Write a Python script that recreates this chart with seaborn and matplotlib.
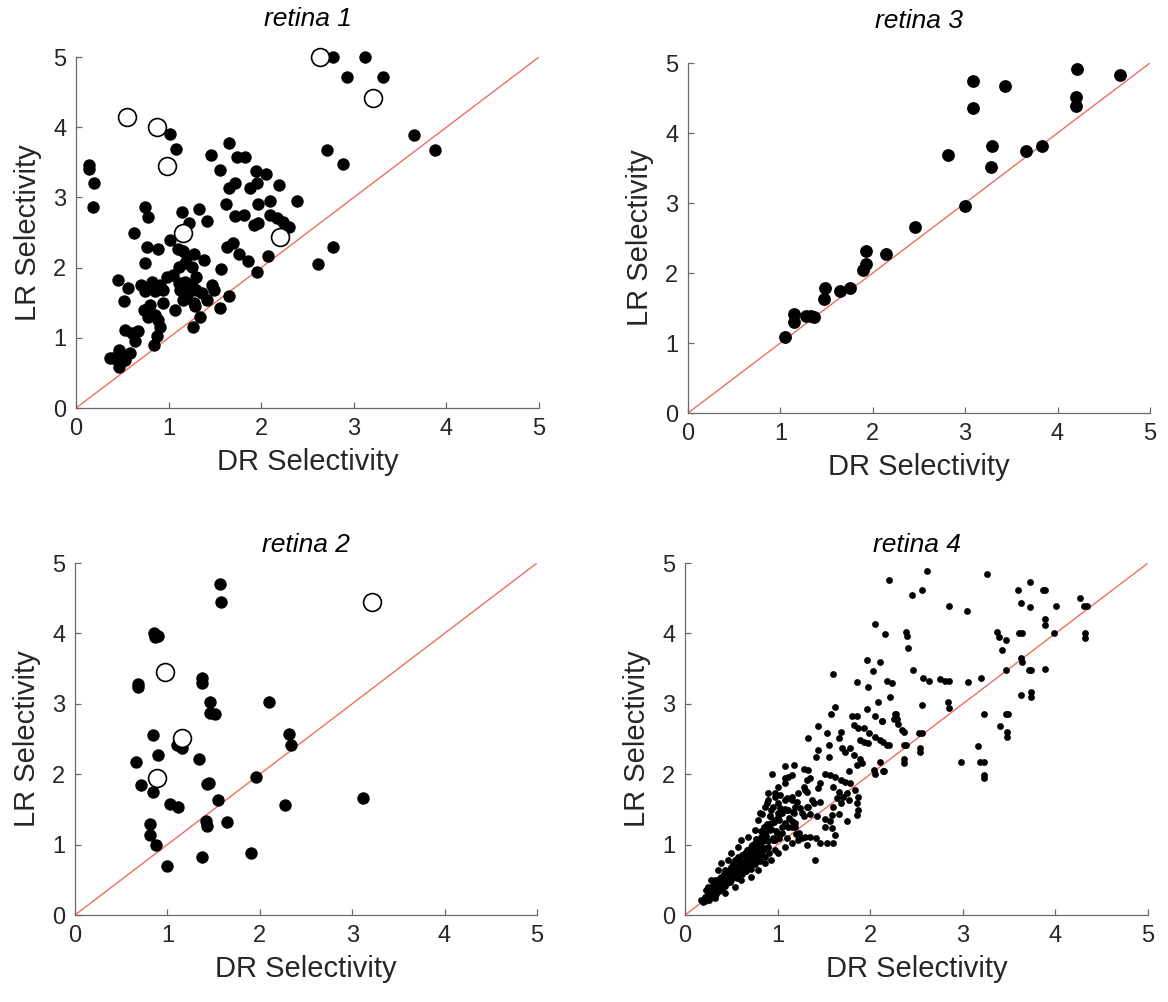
import matplotlib
matplotlib.use("Agg")
import matplotlib.pyplot as plt
import seaborn as sns
import pandas as pd

# ---------------- data ----------------
# retina 1
r1_open_x = [2.63, 3.21, 0.55, 0.87, 0.98, 1.15, 2.20]
r1_open_y = [5.00, 4.42, 4.15, 4.00, 3.45, 2.50, 2.44]
r1_x = [2.77, 3.12, 2.93, 3.32, 3.65, 3.88, 2.71, 2.88, 2.78, 2.61,
        0.14, 0.14, 0.19, 0.18, 1.02, 1.08, 1.46, 1.56, 1.65, 1.74,
        1.82, 1.94, 2.05, 2.19, 1.72, 1.65, 1.88, 1.95, 1.62, 1.96,
        2.10, 2.39, 1.72, 1.81, 1.97, 1.92, 2.09, 2.17, 2.24, 2.30,
        0.74, 0.78, 0.63, 0.77, 0.89, 1.02, 1.14, 1.22, 1.33, 1.41,
        1.63, 1.70, 1.76, 1.86, 2.07, 1.95, 1.57, 1.65, 1.55, 0.74,
        1.10, 1.16, 1.20, 1.27, 1.38, 1.11, 1.18, 1.25, 0.45, 0.56,
        0.70, 0.82, 0.91, 0.98, 1.05, 0.85, 0.94, 1.11, 1.18, 1.25,
        1.30, 1.12, 1.21, 1.30, 1.36, 1.47, 1.49, 1.41, 1.16, 1.27,
        1.29, 0.52, 0.74, 0.80, 0.73, 0.78, 0.85, 0.89, 0.94, 1.07,
        0.91, 0.87, 0.84, 0.53, 0.60, 0.67, 0.64, 1.26, 1.34, 0.40,
        0.48, 0.46, 0.47, 0.53, 0.58, 0.46, 0.37]
r1_y = [5.00, 5.00, 4.72, 4.72, 3.89, 3.67, 3.67, 3.47, 2.29, 2.05,
        3.46, 3.41, 3.20, 2.87, 3.91, 3.69, 3.60, 3.39, 3.77, 3.58,
        3.58, 3.38, 3.34, 3.17, 3.20, 3.13, 3.13, 3.20, 2.91, 2.91,
        2.95, 2.95, 2.73, 2.75, 2.64, 2.61, 2.75, 2.70, 2.65, 2.58,
        2.87, 2.72, 2.49, 2.30, 2.27, 2.40, 2.79, 2.64, 2.83, 2.67,
        2.30, 2.35, 2.19, 2.09, 2.17, 1.94, 1.98, 1.60, 1.42, 2.06,
        2.27, 2.23, 2.16, 2.20, 2.11, 2.01, 2.06, 2.01, 1.82, 1.71,
        1.75, 1.80, 1.75, 1.87, 1.90, 1.66, 1.68, 1.78, 1.80, 1.75,
        1.87, 1.68, 1.64, 1.68, 1.64, 1.75, 1.68, 1.54, 1.54, 1.49,
        1.45, 1.52, 1.66, 1.47, 1.40, 1.30, 1.33, 1.26, 1.50, 1.40,
        1.16, 1.02, 0.90, 1.11, 1.07, 1.09, 0.95, 1.16, 1.30, 0.71,
        0.73, 0.83, 0.64, 0.69, 0.78, 0.59, 0.71]

# retina 2
r2_open_x = [0.97, 1.16, 0.89, 3.21]
r2_open_y = [3.45, 2.52, 1.95, 4.44]
r2_x = [1.57, 1.58, 0.86, 0.90, 0.87, 0.68, 0.68, 1.38, 1.38, 1.46,
        1.46, 1.52, 2.10, 0.84, 2.32, 2.34, 1.10, 1.16, 0.90, 0.66,
        1.34, 0.71, 0.84, 1.96, 1.43, 1.45, 1.03, 1.12, 1.55, 2.27,
        3.12, 0.81, 0.81, 0.88, 1.42, 1.43, 1.65, 1.00, 1.38, 1.91]
r2_y = [4.70, 4.44, 4.01, 3.97, 3.95, 3.28, 3.24, 3.36, 3.30, 3.03,
        2.87, 2.85, 3.03, 2.56, 2.57, 2.42, 2.42, 2.37, 2.28, 2.17,
        2.21, 1.85, 1.75, 1.96, 1.86, 1.88, 1.57, 1.53, 1.63, 1.56,
        1.66, 1.30, 1.14, 1.00, 1.34, 1.27, 1.32, 0.70, 0.82, 0.88]

# retina 3
r3_x = [1.05, 1.15, 1.15, 1.28, 1.33, 1.36, 1.48, 1.47, 1.65, 1.75,
        1.93, 1.93, 1.90, 2.14, 2.46, 2.81, 3.00, 3.09, 3.08, 3.29,
        3.28, 3.43, 3.66, 3.83, 4.21, 4.20, 4.20, 4.68]
r3_y = [1.09, 1.42, 1.30, 1.39, 1.38, 1.37, 1.78, 1.63, 1.75, 1.79,
        2.32, 2.13, 2.05, 2.27, 2.66, 3.68, 2.96, 4.75, 4.36, 3.82,
        3.51, 4.67, 3.75, 3.81, 4.91, 4.52, 4.39, 4.83]

# retina 4
r4_x = [2.61, 2.20, 3.26, 2.45, 2.56, 2.85, 3.04, 3.72, 3.60, 3.87,
        3.89, 3.63, 3.72, 4.01, 4.27, 4.31, 4.34, 3.89, 3.89, 3.98,
        4.32, 4.32, 3.61, 3.64, 3.37, 3.39, 3.47, 3.42, 3.63, 3.64,
        3.47, 3.71, 3.74, 3.89, 3.63, 3.74, 3.74, 3.47, 3.49, 3.40,
        3.48, 3.48, 3.23, 3.16, 2.98, 3.19, 3.23, 3.23, 3.23, 2.16,
        2.39, 2.40, 2.41, 2.11, 2.46, 2.57, 2.63, 2.75, 2.81, 2.85,
        3.06, 3.20, 2.18, 2.23, 2.21, 2.56, 2.84, 2.85, 2.13, 2.28,
        2.26, 2.30, 2.34, 2.37, 2.53, 2.56, 2.36, 2.39, 2.14, 2.20,
        2.54, 2.54, 2.37, 2.37, 2.15, 2.11,
        2.05, 1.96, 2.03, 1.60, 1.86, 1.98, 2.08, 1.62, 1.58, 1.96,
        1.80, 1.86, 2.05, 2.13, 2.27, 2.29, 1.44, 1.82, 1.87, 1.93,
        1.68, 1.66, 1.53, 1.99, 2.05, 2.11, 2.18, 1.89, 1.93, 1.98,
        1.33, 1.55, 1.69, 1.73, 1.78, 1.44, 1.41, 1.82, 1.89, 1.55,
        1.86, 1.91, 2.04, 2.05, 2.14, 1.08, 1.18, 0.94, 1.08, 1.15,
        1.28, 1.33, 1.35, 1.32, 1.51, 1.57, 1.62, 1.68, 1.73, 1.78,
        1.77, 1.46, 1.44, 1.28, 1.32, 1.60, 1.66, 1.71, 1.64, 1.68,
        1.84, 1.87, 1.86, 1.87, 1.86, 1.75, 1.77, 0.90, 0.97, 1.03,
        1.10, 1.15, 1.21, 0.88, 0.95, 1.03, 1.10, 1.17, 1.24, 1.32,
        1.39, 1.46, 0.83, 0.92, 1.01, 1.08, 1.15, 1.28, 1.35, 1.42,
        1.51, 1.57, 1.60, 1.66, 1.59, 0.85, 0.92, 0.99, 0.86, 0.95,
        1.19, 1.23, 1.26, 1.32, 1.35, 1.41, 1.46, 1.53, 1.60, 1.51,
        1.59, 1.75, 1.62, 1.40,
        0.177, 0.213, 0.249, 0.285, 0.321, 0.357, 0.393, 0.429, 0.465, 0.501,
        0.537, 0.573, 0.609, 0.645, 0.681, 0.717,
        0.285, 0.357, 0.393, 0.465, 0.501, 0.573, 0.609, 0.681, 0.753, 0.789,
        0.807, 0.861, 0.897, 0.969, 1.005, 1.077, 1.113,
        0.321, 0.429, 0.537, 0.609, 0.717, 0.789, 0.861, 0.933, 1.005, 1.077,
        1.150, 1.222, 1.294,
        0.249, 0.321, 0.393, 0.429, 0.501, 0.537, 0.573, 0.645, 0.681, 0.717,
        0.753, 0.789, 0.825, 0.861, 0.897, 0.933, 0.969, 1.005, 1.042, 0.753,
        0.825, 0.897, 0.969, 1.042, 1.114, 1.186, 0.933, 1.005, 1.077, 1.150,
        1.222, 1.294, 1.114, 1.186, 1.258, 1.330, 1.366, 1.077,
        0.195, 0.231, 0.267, 0.303, 0.339, 0.375, 0.411, 0.447, 0.483, 0.519,
        0.555, 0.591, 0.627, 0.663, 0.699, 0.735, 0.771, 0.807, 0.843,
        0.231, 0.303, 0.375, 0.447, 0.519, 0.591, 0.663, 0.735, 0.807, 0.879,
        0.30, 0.33, 0.36, 0.40, 0.42, 0.45, 0.48, 0.50, 0.52, 0.55,
        0.58, 0.60, 0.62, 0.65, 0.67, 0.70, 0.72, 0.75, 0.77, 0.80,
        0.82, 0.85, 0.88, 0.90, 0.92, 0.95, 0.98, 1.00, 1.02, 1.05,
        1.08, 1.10, 1.12, 1.15, 1.18, 1.20, 0.26, 0.28, 0.34, 0.38,
        0.44, 0.47, 0.53, 0.57, 0.63, 0.68, 0.73, 0.78, 0.84, 0.87,
        0.93, 0.96, 0.24, 0.22, 0.31, 0.37, 0.43, 0.49, 0.56, 0.61,
        0.66, 0.71, 0.76, 0.81, 0.86, 0.91, 0.97]
r4_y = [4.88, 4.76, 4.84, 4.54, 4.61, 4.39, 4.32, 4.73, 4.61, 4.61,
        4.61, 4.43, 4.38, 4.39, 4.50, 4.39, 4.39, 4.21, 4.12, 4.01,
        4.00, 3.93, 4.01, 4.01, 4.02, 3.95, 3.91, 3.76, 3.65, 3.60,
        3.48, 3.48, 3.48, 3.49, 3.12, 3.17, 3.10, 2.85, 2.85, 2.69,
        2.60, 2.53, 2.85, 2.40, 2.18, 2.18, 2.18, 1.99, 1.94, 3.99,
        4.02, 3.97, 3.80, 3.60, 3.48, 3.36, 3.32, 3.35, 3.32, 3.32,
        3.31, 3.36, 3.32, 3.29, 3.10, 2.98, 3.03, 2.94, 2.75, 2.85,
        2.79, 2.72, 2.63, 2.60, 2.59, 2.59, 2.42, 2.42, 2.46, 2.42,
        2.37, 2.31, 2.22, 2.16, 2.04, 2.18,
        4.14, 3.62, 3.47, 3.42, 3.31, 3.24, 3.02, 2.96, 2.86, 2.93,
        2.82, 2.83, 2.82, 2.75, 2.86, 2.79, 2.68, 2.70, 2.65, 2.65,
        2.60, 2.51, 2.58, 2.58, 2.53, 2.49, 2.42, 2.49, 2.46, 2.44,
        2.51, 2.42, 2.37, 2.32, 2.37, 2.34, 2.25, 2.27, 2.21, 2.25,
        2.13, 2.16, 2.06, 2.01, 2.04, 2.12, 2.13, 2.00, 1.94, 1.99,
        2.08, 2.06, 1.94, 1.92, 2.01, 1.99, 1.96, 1.92, 1.89, 1.87,
        2.04, 1.87, 1.80, 1.82, 1.75, 1.82, 1.75, 1.68, 1.66, 1.59,
        1.78, 1.68, 1.59, 1.49, 1.42, 1.73, 1.63, 1.73, 1.68, 1.70,
        1.66, 1.63, 1.61, 1.59, 1.54, 1.52, 1.49, 1.47, 1.52, 1.54,
        1.59, 1.61, 1.44, 1.40, 1.35, 1.30, 1.33, 1.40, 1.44, 1.40,
        1.37, 1.33, 1.54, 1.44, 1.42, 1.25, 1.21, 1.16, 1.11, 1.07,
        1.25, 1.16, 1.09, 0.99, 1.11, 1.09, 1.02, 1.02, 1.02, 1.25,
        1.23, 1.33, 1.14, 0.78,
        0.213, 0.260, 0.308, 0.355, 0.402, 0.426, 0.473, 0.521, 0.544, 0.592,
        0.639, 0.687, 0.710, 0.758, 0.805, 0.852,
        0.497, 0.639, 0.734, 0.781, 0.876, 0.970, 1.065, 1.113, 1.207, 1.349,
        1.444, 1.539, 1.634, 1.728, 1.823, 1.870, 1.965,
        0.237, 0.308, 0.402, 0.497, 0.544, 0.639, 0.734, 0.781, 0.876, 0.970,
        1.018, 1.065, 1.113,
        0.402, 0.497, 0.544, 0.639, 0.687, 0.781, 0.829, 0.876, 0.923, 0.971,
        1.018, 1.065, 1.113, 1.160, 1.255, 1.302, 1.349, 1.397, 1.444, 0.923,
        0.876, 0.971, 1.065, 1.160, 1.255, 1.302, 1.491, 1.586, 1.634, 1.681,
        1.728, 1.776, 1.491, 1.539, 1.444, 1.539, 1.634, 1.302,
        0.189, 0.237, 0.284, 0.331, 0.355, 0.402, 0.450, 0.473, 0.521, 0.568,
        0.616, 0.639, 0.663, 0.710, 0.734, 0.781, 0.829, 0.852, 0.923,
        0.355, 0.426, 0.521, 0.592, 0.663, 0.758, 0.829, 0.900, 0.994, 1.065,
        0.40, 0.30, 0.48, 0.38, 0.58, 0.45, 0.62, 0.50, 0.72, 0.55,
        0.78, 0.62, 0.85, 0.68, 0.92, 0.72, 1.00, 0.78, 1.08, 0.85,
        1.20, 0.95, 1.30, 1.05, 1.40, 1.10, 1.20, 1.45, 1.10, 1.25,
        1.50, 1.10, 1.38, 1.25, 1.45, 1.15, 0.22, 0.33, 0.40, 0.45,
        0.52, 0.56, 0.64, 0.70, 0.76, 0.84, 0.90, 0.95, 1.05, 1.12,
        1.22, 1.32, 0.27, 0.20, 0.36, 0.34, 0.41, 0.47, 0.52, 0.58,
        0.62, 0.66, 0.72, 0.77, 0.82, 0.88, 0.92]

titles = ["retina 1", "retina 2", "retina 3", "retina 4"]
ticks = [0, 1, 2, 3, 4, 5]
diag = [0, 5]

# ---------------- style ----------------
sns.set_style("white")
plt.rcParams["font.family"] = ["Liberation Sans", "DejaVu Sans"]

fig = plt.figure(figsize=(11.68, 10.02), dpi=100)

positions = {
    "retina 1": [0.0651, 0.5928, 0.3964, 0.3503],
    "retina 3": [0.5890, 0.5878, 0.3955, 0.3493],
    "retina 2": [0.0642, 0.0868, 0.3955, 0.3513],
    "retina 4": [0.5865, 0.0868, 0.3964, 0.3513],
}
title_pad = {"retina 1": 22, "retina 3": 25, "retina 2": 8, "retina 4": 8}

panels = {
    "retina 1": (r1_x, r1_y, r1_open_x, r1_open_y, 80),
    "retina 2": (r2_x, r2_y, r2_open_x, r2_open_y, 80),
    "retina 3": (r3_x, r3_y, [], [], 85),
    "retina 4": (r4_x, r4_y, [], [], 24),
}

axis_col = "#6a6a6a"
text_col = "#262626"
line_col = "#ec6f62"

for name in titles:
    ax = fig.add_axes(positions[name])
    xs, ys, ox, oy, s = panels[name]
    ax.plot(diag, diag, color=line_col, lw=1.0, zorder=1)
    df = pd.DataFrame({"DR": xs, "LR": ys})
    sns.scatterplot(data=df, x="DR", y="LR", ax=ax, color="black", s=s,
                    linewidth=0, zorder=3, clip_on=False)
    if ox:
        dfo = pd.DataFrame({"DR": ox, "LR": oy})
        sns.scatterplot(data=dfo, x="DR", y="LR", ax=ax, facecolor="white",
                        edgecolor="black", s=165, linewidth=1.2, zorder=4,
                        clip_on=False)
    ax.set_xlim(0, 5)
    ax.set_ylim(0, 5)
    ax.set_xticks(ticks)
    ax.set_yticks(ticks)
    for sp in ["top", "right"]:
        ax.spines[sp].set_visible(False)
    for sp in ["left", "bottom"]:
        ax.spines[sp].set_color(axis_col)
        ax.spines[sp].set_linewidth(0.9)
    ax.tick_params(direction="in", length=4, width=0.9, color=axis_col,
                   labelsize=17, labelcolor=text_col, pad=7,
                   left=True, bottom=True)
    ax.set_xlabel("DR Selectivity", fontsize=21, color=text_col, labelpad=6)
    ax.set_ylabel("LR Selectivity", fontsize=21, color=text_col, labelpad=8)
    ax.set_title(name, fontsize=19, style="italic", color="black",
                 pad=title_pad[name])
    ax.set_facecolor("white")

fig.savefig("out.png", dpi=100, facecolor="white")
